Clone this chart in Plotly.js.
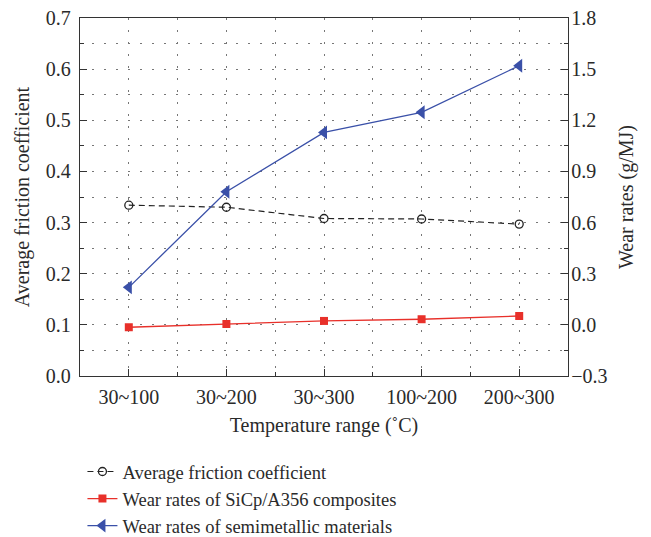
<!DOCTYPE html>
<html><head><meta charset="utf-8">
<script src="https://cdn.plot.ly/plotly-3.0.1.min.js"></script>
<style>body{margin:0;background:#fff}#c{width:651px;height:537px}</style>
</head><body><div id="c"></div>
<script>
const categories = ["30~100", "30~200", "30~300", "100~200", "200~300"];
const frictionCoeff = [0.334, 0.330, 0.308, 0.307, 0.297];
const wearSiCp = [-0.014, 0.005, 0.023, 0.033, 0.052];
const wearSemimetallic = [0.220, 0.781, 1.129, 1.247, 1.520];

const xIdx = categories.map((c, i) => i);
const font = {family: 'Liberation Serif, Times New Roman, serif', size: 20, color: '#2a2a2a'};
const legendFont = {family: 'Liberation Serif, Times New Roman, serif', size: 18.5, color: '#2a2a2a'};
const gdash = '2px,10px';
const gcol = '#777';

const traces = [
  {x: xIdx, y: frictionCoeff, name: 'Average friction coefficient', mode: 'lines+markers',
   line: {color: '#222', width: 1.2, dash: '6px,4px'},
   marker: {symbol: 'circle-open', size: 8, color: '#222', line: {width: 1.3}}, yaxis: 'y'},
  {x: xIdx, y: wearSiCp, name: 'Wear rates of SiCp/A356 composites', mode: 'lines+markers',
   line: {color: '#e8302a', width: 1.3},
   marker: {symbol: 'square', size: 8, color: '#e8302a'}, yaxis: 'y2'},
  {x: xIdx, y: wearSemimetallic, name: 'Wear rates of semimetallic materials', mode: 'lines+markers',
   line: {color: '#3a50a8', width: 1.3},
   marker: {symbol: 'triangle-left', size: 12, color: '#3a50a8'}, yaxis: 'y2'}
];

const layout = {
  width: 651, height: 537,
  margin: {l: 80, r: 83, t: 18, b: 161, autoexpand: false},
  paper_bgcolor: '#fff', plot_bgcolor: '#fff',
  font: font,
  showlegend: true,
  legend: {x: 0.005, y: -0.215, xanchor: 'left', yanchor: 'top', orientation: 'v',
           font: legendFont, bgcolor: 'rgba(0,0,0,0)', tracegroupgap: 0, itemwidth: 30},
  xaxis: {
    range: [-0.5, 4.5], tickvals: xIdx, ticktext: categories, automargin: false,
    showline: true, linecolor: '#333', linewidth: 1.3, mirror: true,
    ticks: 'inside', ticklen: 7, tickcolor: '#333', ticklabelstandoff: 3,
    showgrid: true, gridcolor: gcol, griddash: gdash, gridwidth: 1,
    minor: {dtick: 0.5, tick0: 0.5, ticks: 'inside', ticklen: 4, tickcolor: '#333', showgrid: true, gridcolor: gcol, griddash: gdash},
    zeroline: false,
    title: {text: 'Temperature range (˚C)', font: font, standoff: 10},
    tickfont: font
  },
  yaxis: {
    range: [0, 0.7], dtick: 0.1, tick0: 0, tickformat: '.1f', automargin: false,
    showline: true, linecolor: '#333', linewidth: 1.3,
    ticks: 'inside', ticklen: 7, tickcolor: '#333', ticklabelstandoff: 4,
    showgrid: true, gridcolor: gcol, griddash: gdash, gridwidth: 1,
    minor: {dtick: 0.05, ticks: 'inside', ticklen: 4, tickcolor: '#333', showgrid: true, gridcolor: gcol, griddash: gdash},
    zeroline: false,
    title: {text: 'Average friction coefficient', font: font, standoff: 10},
    tickfont: font
  },
  yaxis2: {
    overlaying: 'y', side: 'right', automargin: false,
    range: [-0.3, 1.8], dtick: 0.3, tick0: 0, tickformat: '.1f',
    showline: true, linecolor: '#333', linewidth: 1.3,
    ticks: 'inside', ticklen: 7, tickcolor: '#333', ticklabelstandoff: -2,
    showgrid: false, zeroline: false,
    minor: {dtick: 0.15, ticks: 'inside', ticklen: 4, tickcolor: '#333', showgrid: false},
    title: {text: 'Wear rates (g/MJ)', font: font, standoff: 12},
    tickfont: font
  }
};

Plotly.newPlot('c', traces, layout, {displayModeBar: false, staticPlot: true});
</script></body></html>
